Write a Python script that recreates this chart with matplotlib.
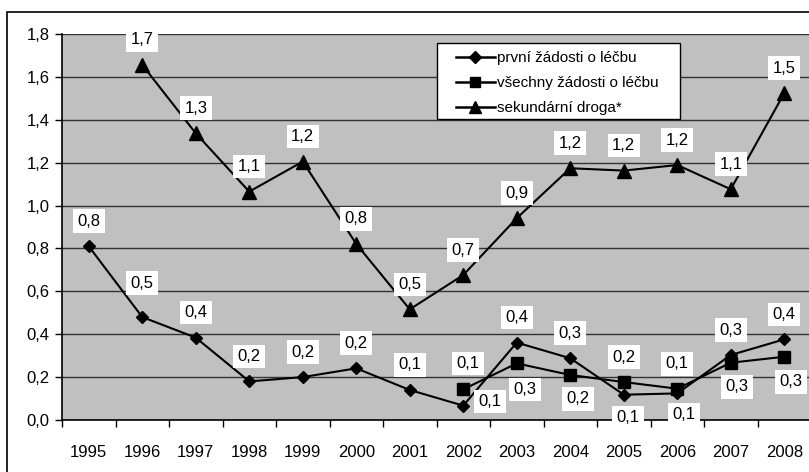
import numpy as np
import matplotlib
matplotlib.use("Agg")
import matplotlib.pyplot as plt
from matplotlib.patches import Rectangle

plt.rcParams["font.family"] = ["Liberation Sans", "DejaVu Sans"]

years = ["1995", "1996", "1997", "1998", "1999", "2000", "2001",
         "2002", "2003", "2004", "2005", "2006", "2007", "2008"]
nan = np.nan
first_requests = [0.81, 0.48, 0.384, 0.18, 0.20, 0.241, 0.14,
                  0.067, 0.361, 0.288, 0.118, 0.124, 0.303, 0.376]
all_requests = [nan, nan, nan, nan, nan, nan, nan,
                0.143, 0.264, 0.21, 0.177, 0.146, 0.267, 0.295]
secondary_drug = [nan, 1.656, 1.337, 1.065, 1.205, 0.821, 0.516,
                  0.676, 0.941, 1.174, 1.163, 1.189, 1.076, 1.524]
series_names = ["první žádosti o léčbu", "všechny žádosti o léčbu",
                "sekundární droga*"]

W, H = 809, 472
fig = plt.figure(figsize=(W / 100, H / 100), dpi=100)
# outer chart frame (cropped at right and bottom in the reference)
fig.patches.append(Rectangle((7 / W, -0.1), 1.2, (H - 12) / H + 0.1,
                             transform=fig.transFigure, fill=False,
                             edgecolor="black", lw=1.2))

left, right, top, bottom = 62, 811, 34, 420
ax = fig.add_axes([left / W, 1 - bottom / H, (right - left) / W, (bottom - top) / H])
ax.set_facecolor("#c0c0c0")

x = np.arange(len(years))
styles = [("D", 6.6), ("s", 8.3), ("^", 9.5)]
data = [first_requests, all_requests, secondary_drug]
handles = []
for vals, (m, ms), name in zip(data, styles, series_names):
    h, = ax.plot(x, vals, color="black", lw=1.5, marker=m, ms=ms, label=name,
                 zorder=3, clip_on=False)
    handles.append(h)

# label offsets in pixels, default is above the point
offsets = [
    {1: (0, 34), 7: (27, 4), 10: (4, -23), 11: (7, -21)},
    {7: (5, 26), 8: (8, -26), 9: (8, -24), 12: (6, -24), 13: (7, -25)},
    {},
]
for vals, offs in zip(data, offsets):
    for i, v in enumerate(vals):
        if np.isnan(v):
            continue
        dx, dy = offs.get(i, (0, 25))
        ax.annotate(f"{v:.1f}".replace(".", ","), (x[i], v),
                    xytext=(dx, dy), textcoords="offset pixels",
                    ha="center", va="center", fontsize=12, zorder=4,
                    annotation_clip=False,
                    bbox=dict(boxstyle="square,pad=0.26", fc="white", ec="none"))

ax.set_xlim(-0.5, 13.5)
ax.set_ylim(0, 1.8)
ax.set_yticks(np.arange(0, 1.81, 0.2))
ax.set_yticklabels([f"{t:.1f}".replace(".", ",") for t in np.arange(0, 1.81, 0.2)],
                   fontsize=12)
ax.set_xticks(np.arange(-0.5, 13.6, 1))
ax.set_xticklabels([])
ax.set_xticks(x, minor=True)
ax.set_xticklabels(years, minor=True, fontsize=12)
ax.tick_params(axis="x", which="major", length=5, direction="out", width=1)
ax.tick_params(axis="x", which="minor", length=0, pad=18)
ax.tick_params(axis="y", length=5, width=1, pad=4)
ax.grid(axis="y", color="#333333", lw=1)
ax.set_axisbelow(True)
for s in ["top", "right"]:
    ax.spines[s].set_visible(False)
for s in ["left", "bottom"]:
    ax.spines[s].set_linewidth(1.2)

# legend box
fig.patches.append(Rectangle((437 / W, 1 - 119 / H), (680 - 437) / W, (119 - 43) / H,
                             transform=fig.transFigure, fc="white", ec="black",
                             lw=1, zorder=5))
leg = fig.legend(handles=handles, loc="upper left",
                 bbox_to_anchor=(456 / W, 1 - 51 / H), frameon=False,
                 fontsize=11, handlelength=2.55, handletextpad=0.12,
                 labelspacing=0.72, borderaxespad=0, borderpad=0,
                 markerscale=0.85)
leg.set_zorder(6)
for line in leg.get_lines():
    line.set_linewidth(1.8)

fig.savefig("out.png", dpi=100)
